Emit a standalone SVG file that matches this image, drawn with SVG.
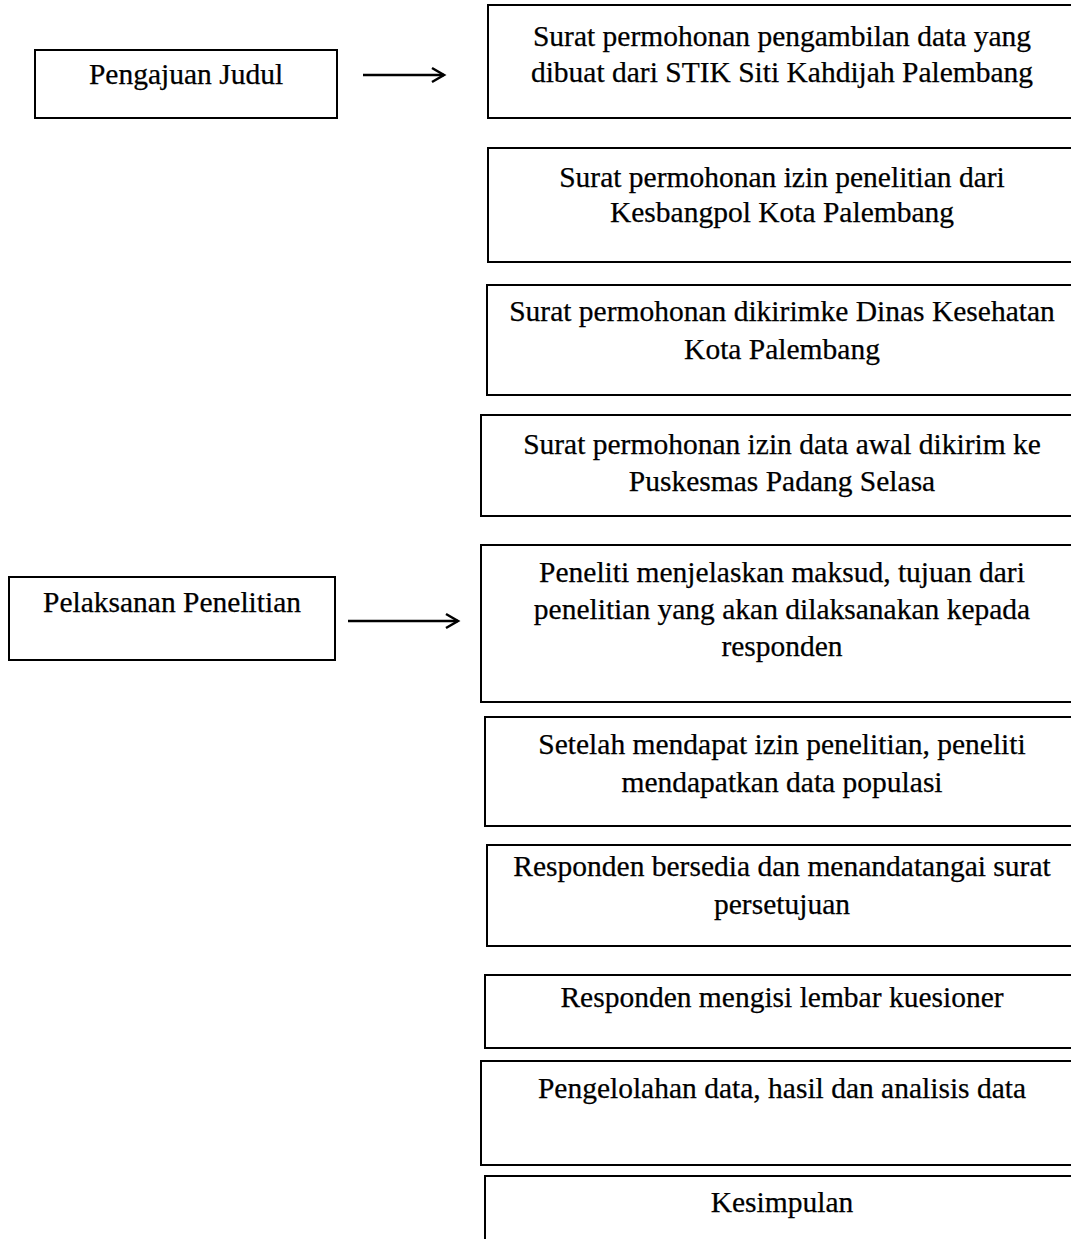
<svg xmlns="http://www.w3.org/2000/svg" width="1071" height="1239" viewBox="0 0 1071 1239">
<style>
.box{fill:#fff;stroke:#000;stroke-width:2}
.t{font-family:"Liberation Serif","Times New Roman",serif;font-size:29.5px;fill:#000;text-anchor:middle;stroke:#000;stroke-width:0.25}
.c{fill:none;stroke:#000;stroke-width:2.5}
</style>
<defs>
<marker id="ah" markerWidth="18" markerHeight="18" refX="15" refY="9" orient="auto" markerUnits="userSpaceOnUse">
<path d="M3,2 L15,9 L3,16" fill="none" stroke="#000" stroke-width="2.5"/>
</marker>
</defs>
<rect width="1071" height="1239" fill="#fff"/>
<g id="n-pengajuan"><rect class="box" x="35" y="50" width="302" height="68"/><text class="t" x="186" y="84">Pengajuan Judul</text></g>
<g id="n-pelaksanan"><rect class="box" x="9" y="577" width="326" height="83"/><text class="t" x="172" y="612">Pelaksanan Penelitian</text></g>
<g id="n1"><rect class="box" x="488" y="5" width="600" height="113"/><text class="t" x="782" y="46">Surat permohonan pengambilan data yang</text><text class="t" x="782" y="82">dibuat dari STIK Siti Kahdijah Palembang</text></g>
<g id="n2"><rect class="box" x="488" y="148" width="600" height="114"/><text class="t" x="782" y="187">Surat permohonan izin penelitian dari</text><text class="t" x="782" y="222">Kesbangpol Kota Palembang</text></g>
<g id="n3"><rect class="box" x="487" y="285" width="600" height="110"/><text class="t" x="782" y="321">Surat permohonan dikirimke Dinas Kesehatan</text><text class="t" x="782" y="359">Kota Palembang</text></g>
<g id="n4"><rect class="box" x="481" y="415" width="600" height="101"/><text class="t" x="782" y="454">Surat permohonan izin data awal dikirim ke</text><text class="t" x="782" y="491">Puskesmas Padang Selasa</text></g>
<g id="n5"><rect class="box" x="481" y="545" width="600" height="157"/><text class="t" x="782" y="582">Peneliti menjelaskan maksud, tujuan dari</text><text class="t" x="782" y="619">penelitian yang akan dilaksanakan kepada</text><text class="t" x="782" y="656">responden</text></g>
<g id="n6"><rect class="box" x="485" y="717" width="600" height="109"/><text class="t" x="782" y="754">Setelah mendapat izin penelitian, peneliti</text><text class="t" x="782" y="792">mendapatkan data populasi</text></g>
<g id="n7"><rect class="box" x="487" y="845" width="600" height="101"/><text class="t" x="782" y="876">Responden bersedia dan menandatangai surat</text><text class="t" x="782" y="914">persetujuan</text></g>
<g id="n8"><rect class="box" x="485" y="975" width="600" height="73"/><text class="t" x="782" y="1007">Responden mengisi lembar kuesioner</text></g>
<g id="n9"><rect class="box" x="481" y="1061" width="600" height="104"/><text class="t" x="782" y="1098">Pengelolahan data, hasil dan analisis data</text></g>
<g id="n10"><rect class="box" x="485" y="1176" width="600" height="80"/><text class="t" x="782" y="1212">Kesimpulan</text></g>
<g id="connectors">
<line class="c" x1="363" y1="75" x2="444" y2="75" marker-end="url(#ah)"/>
<line class="c" x1="348" y1="621" x2="458" y2="621" marker-end="url(#ah)"/>
</g>
</svg>
